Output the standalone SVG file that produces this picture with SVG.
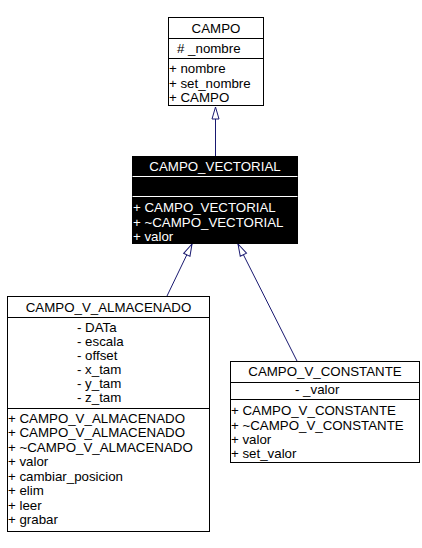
<svg xmlns="http://www.w3.org/2000/svg" width="422" height="548" viewBox="0 0 422 548">
<style>
.box{fill:#ffffff;stroke:#000000;stroke-width:1}
.dbox{fill:#000000;stroke:#000000;stroke-width:1}
.sep{stroke:#000000;stroke-width:1}
.wsep{stroke:#ffffff;stroke-width:1}
text{font-family:"Liberation Sans",Arial,sans-serif;font-size:13.3px;fill:#000000}
.t{text-anchor:middle}
.w{fill:#ffffff}
.edge{stroke:#191970;stroke-width:1;fill:none;marker-end:url(#inh)}
</style>
<defs>
<marker id="inh" viewBox="-1 -5 14 10" refX="12" refY="0" markerWidth="14" markerHeight="10" markerUnits="userSpaceOnUse" orient="auto" overflow="visible">
<path d="M0,-3.5 L12,0 L0,3.5 Z" fill="#ffffff" stroke="#191970" stroke-width="1"/>
</marker>
</defs>
<rect width="422" height="548" fill="#ffffff"/>
<g id="connectors">
<line class="edge" x1="215.5" y1="156" x2="215.5" y2="107"/>
<line class="edge" x1="167" y1="296" x2="192" y2="244"/>
<line class="edge" x1="297" y1="361" x2="238" y2="244"/>
</g>
<g id="CAMPO">
<rect class="box" x="168.5" y="17.5" width="95" height="88"/>
<line class="sep" x1="168.5" y1="38.5" x2="263.5" y2="38.5"/>
<line class="sep" x1="168.5" y1="58.5" x2="263.5" y2="58.5"/>
<text class="t" x="216" y="33">CAMPO</text>
<text x="177" y="53"># _nombre</text>
<text x="169" y="73">+ nombre</text>
<text x="169" y="87.5">+ set_nombre</text>
<text x="169" y="102">+ CAMPO</text>
</g>
<g id="CAMPO_VECTORIAL">
<rect class="dbox" x="132.5" y="156.5" width="165" height="87"/>
<line class="wsep" x1="132.5" y1="176.5" x2="297.5" y2="176.5"/>
<line class="wsep" x1="132.5" y1="196.5" x2="297.5" y2="196.5"/>
<text class="t w" x="215" y="171">CAMPO_VECTORIAL</text>
<text class="w" x="133" y="212">+ CAMPO_VECTORIAL</text>
<text class="w" x="133" y="226.5">+ ~CAMPO_VECTORIAL</text>
<text class="w" x="133" y="240.5">+ valor</text>
</g>
<g id="CAMPO_V_ALMACENADO">
<rect class="box" x="7.5" y="296.5" width="202" height="235"/>
<line class="sep" x1="7.5" y1="317.5" x2="209.5" y2="317.5"/>
<line class="sep" x1="7.5" y1="408.5" x2="209.5" y2="408.5"/>
<text class="t" x="108.5" y="312">CAMPO_V_ALMACENADO</text>
<text x="77" y="331.5">- DATa</text>
<text x="77" y="345.5">- escala</text>
<text x="77" y="359.5">- offset</text>
<text x="77" y="373.5">- x_tam</text>
<text x="77" y="387.5">- y_tam</text>
<text x="77" y="401.5">- z_tam</text>
<text x="8" y="422.5">+ CAMPO_V_ALMACENADO</text>
<text x="8" y="437">+ CAMPO_V_ALMACENADO</text>
<text x="8" y="451.5">+ ~CAMPO_V_ALMACENADO</text>
<text x="8" y="466">+ valor</text>
<text x="8" y="480.5">+ cambiar_posicion</text>
<text x="8" y="495">+ elim</text>
<text x="8" y="509.5">+ leer</text>
<text x="8" y="524">+ grabar</text>
</g>
<g id="CAMPO_V_CONSTANTE">
<rect class="box" x="230.5" y="361.5" width="189" height="101"/>
<line class="sep" x1="230.5" y1="382.5" x2="419.5" y2="382.5"/>
<line class="sep" x1="230.5" y1="399.5" x2="419.5" y2="399.5"/>
<text class="t" x="325" y="376">CAMPO_V_CONSTANTE</text>
<text x="295" y="394">- _valor</text>
<text x="231" y="415">+ CAMPO_V_CONSTANTE</text>
<text x="231" y="429.5">+ ~CAMPO_V_CONSTANTE</text>
<text x="231" y="444">+ valor</text>
<text x="231" y="458">+ set_valor</text>
</g>
</svg>
